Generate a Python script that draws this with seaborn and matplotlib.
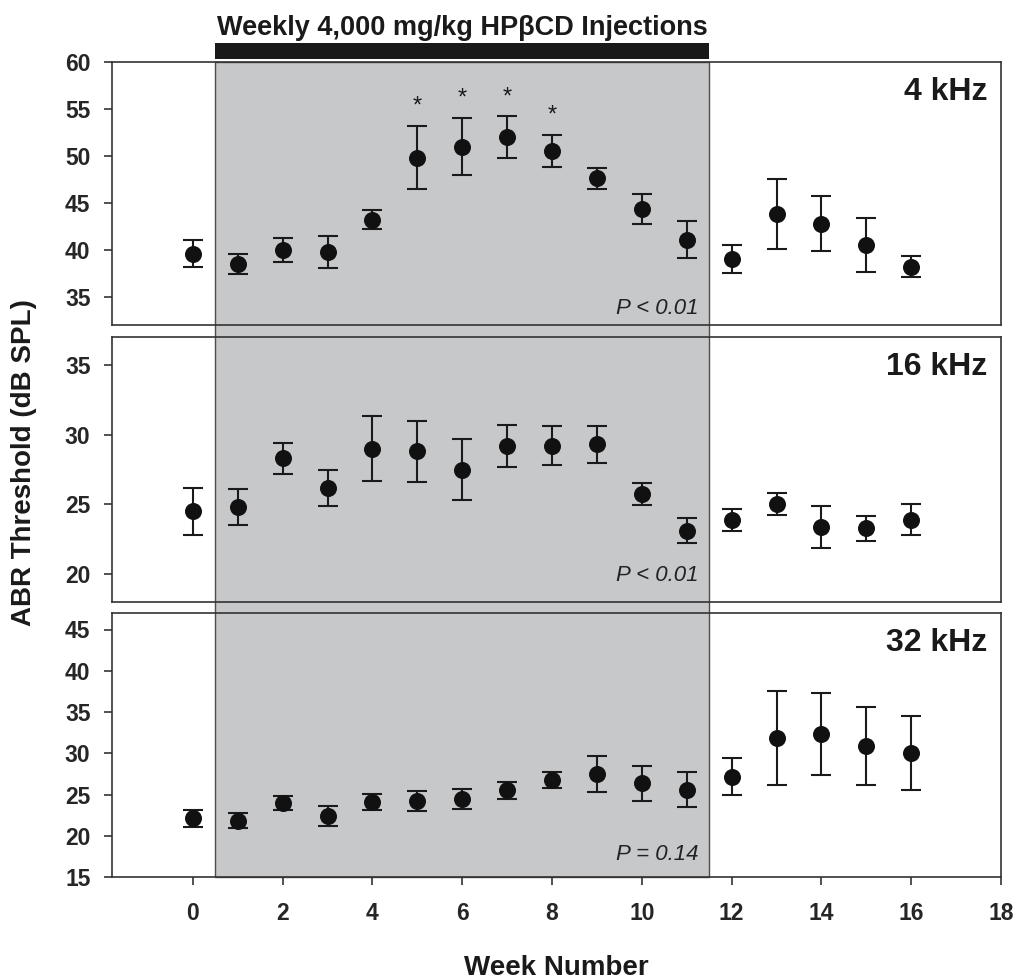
import matplotlib
matplotlib.use("Agg")
import matplotlib.pyplot as plt
import matplotlib.transforms as mtransforms
from matplotlib.patches import Rectangle
import seaborn as sns
import pandas as pd

# ABR thresholds (mean +/- SEM) per week
weeks = list(range(17))
thr_4k = [39.6, 38.5, 40.0, 39.8, 43.2, 49.8, 51.0, 52.0, 50.5, 47.6, 44.3, 41.1, 39.0, 43.8, 42.8, 40.5, 38.2]
sem_4k = [1.4, 1.1, 1.3, 1.7, 1.0, 3.35, 3.0, 2.2, 1.7, 1.1, 1.6, 2.0, 1.5, 3.7, 2.95, 2.9, 1.1]
thr_16k = [24.5, 24.8, 28.3, 26.2, 29.0, 28.8, 27.5, 29.2, 29.2, 29.3, 25.75, 23.1, 23.9, 25.05, 23.4, 23.3, 23.9]
sem_16k = [1.7, 1.3, 1.1, 1.3, 2.3, 2.2, 2.2, 1.5, 1.4, 1.35, 0.8, 0.9, 0.8, 0.8, 1.5, 0.9, 1.1]
thr_32k = [22.1, 21.8, 24.0, 22.4, 24.1, 24.2, 24.45, 25.5, 26.75, 27.5, 26.35, 25.6, 27.15, 31.85, 32.3, 30.9, 30.0]
sem_32k = [1.0, 0.9, 0.85, 1.2, 1.0, 1.2, 1.2, 1.0, 1.0, 2.15, 2.15, 2.1, 2.25, 5.7, 4.95, 4.7, 4.5]

freqs = ["4 kHz", "16 kHz", "32 kHz"]
p_labels = ["P < 0.01", "P < 0.01", "P = 0.14"]
sig_weeks = [5, 6, 7, 8]  # asterisks on 4 kHz
inj_start, inj_end = 0.5, 11.5
inj_label = "Weekly 4,000 mg/kg HP\u03b2CD Injections"

df = pd.DataFrame({
    "week": weeks * 3,
    "thr": thr_4k + thr_16k + thr_32k,
    "sem": sem_4k + sem_16k + sem_32k,
    "freq": [f for f in freqs for _ in weeks],
})

sns.set_style("ticks")
plt.rcParams["font.family"] = ["Liberation Sans", "DejaVu Sans"]
plt.rcParams["font.weight"] = "bold"

W, H = 1016, 980
fig = plt.figure(figsize=(W / 100, H / 100), dpi=100)

# panel boxes in pixels (left, top, right, bottom)
boxes = [(112, 62, 1001, 325), (112, 337, 1001, 602), (112, 613, 1001, 877)]
ylims = [(32, 60), (18, 37), (15, 47)]
yticks = [range(35, 61, 5), range(20, 36, 5), range(15, 46, 5)]
p_y = [33.2, 19.5, 17.1]

spine_col = "#333333"
axes = []
for i, (l, t, r, b) in enumerate(boxes):
    ax = fig.add_axes([l / W, 1 - b / H, (r - l) / W, (b - t) / H])
    ax.set_facecolor("none")
    sub = df[df["freq"] == freqs[i]]
    ax.errorbar(sub["week"], sub["thr"], yerr=sub["sem"], fmt="none",
                ecolor="#1a1a1a", elinewidth=1.5, capsize=7, capthick=1.5, zorder=2)
    sns.scatterplot(data=sub, x="week", y="thr", ax=ax, color="#111111",
                    s=150, linewidth=0, zorder=3, legend=False)
    ax.set_xlim(-1.8, 18)
    ax.set_ylim(*ylims[i])
    ax.set_yticks(list(yticks[i]))
    ax.set_xticks(range(0, 19, 2))
    ax.set_xlabel("")
    ax.set_ylabel("")
    for s in ax.spines.values():
        s.set_visible(True)
        s.set_color(spine_col)
        s.set_linewidth(1.2)
    ax.tick_params(axis="both", direction="out", length=6, width=1.2,
                   color=spine_col, labelsize=16.5)
    ax.tick_params(axis="y", pad=9.5)
    ax.tick_params(axis="x", pad=12)
    if i < 2:
        ax.tick_params(axis="x", bottom=False, labelbottom=False)
    for lab in ax.get_yticklabels() + ax.get_xticklabels():
        lab.set_fontweight("bold")
    ax.annotate(freqs[i], xy=(1, 1), xycoords="axes fraction", xytext=(-10, -11),
                textcoords="offset points", ha="right", va="top",
                fontsize=23, fontweight="bold", color="#1a1a1a")
    ax.text(11.27, p_y[i], p_labels[i], ha="right", va="baseline",
            fontsize=16, fontstyle="italic", fontweight="normal", color="#222222")
    axes.append(ax)

ax1, ax2, ax3 = axes

# significance asterisks
for w in sig_weeks:
    top = thr_4k[w] + sem_4k[w]
    ax1.annotate("*", xy=(w, top), xytext=(0, 6), textcoords="offset points",
                 ha="center", va="bottom", fontsize=17, fontweight="normal", color="#1a1a1a")

# shaded injection period spanning all panels, plus the bar above
trans = mtransforms.blended_transform_factory(ax3.transData, fig.transFigure)
shade = Rectangle((inj_start, 1 - 877 / H), inj_end - inj_start, (877 - 62) / H,
                  transform=trans, facecolor="#c7c8ca", edgecolor="#4d4d4d",
                  linewidth=1.0, zorder=-1)
fig.add_artist(shade)
bar = Rectangle((inj_start, 1 - 59 / H), inj_end - inj_start, 16 / H,
                transform=trans, facecolor="#1a1a1a", edgecolor="none", zorder=1)
fig.add_artist(bar)
fig.text((inj_start + inj_end) / 2, 1 - 35 / H, inj_label, transform=trans,
         ha="center", va="baseline", fontsize=19.5, fontweight="bold", color="#1a1a1a")

fig.text(24 / W, 1 - 463 / H, "ABR Threshold (dB SPL)", rotation=90,
         ha="center", va="center", fontsize=20, fontweight="bold", color="#1a1a1a")
fig.text(556 / W, 1 - 975 / H, "Week Number", ha="center", va="baseline",
         fontsize=20, fontweight="bold", color="#1a1a1a")

fig.savefig("out.png", dpi=100)
